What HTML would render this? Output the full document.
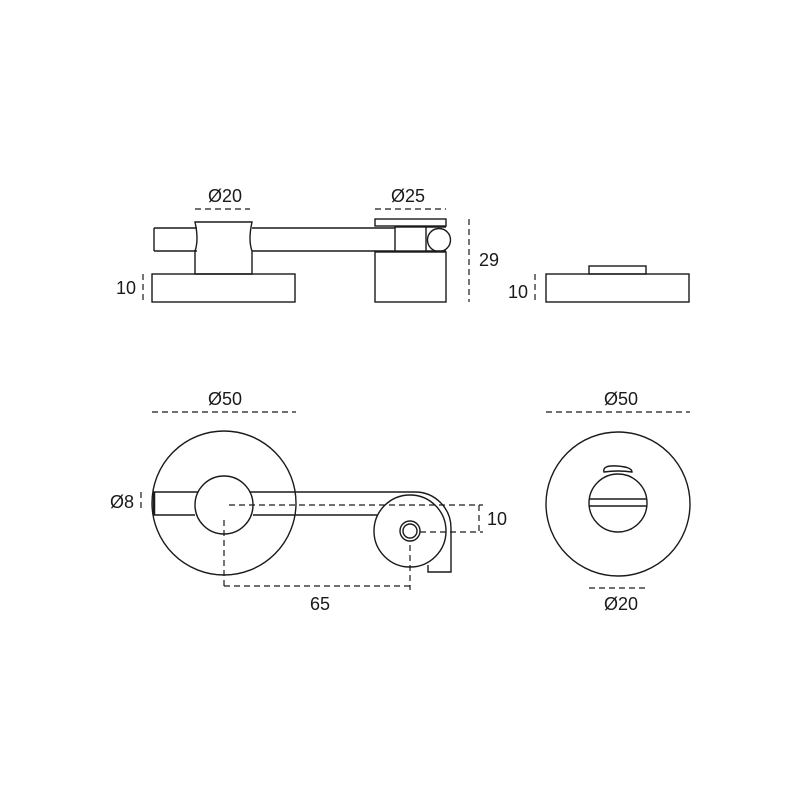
<!DOCTYPE html>
<html><head><style>body{margin:0;background:#fff}svg{display:block}</style></head><body>
<svg width="800" height="800" viewBox="0 0 800 800" xmlns="http://www.w3.org/2000/svg" font-family="Liberation Sans, sans-serif" font-size="18" fill="none" stroke="#1a1a1a" stroke-width="1.4">
<g fill="#1a1a1a" stroke="none" text-anchor="middle">
<text x="225" y="202">Ø20</text><text x="408" y="202">Ø25</text>
<text x="489" y="266">29</text><text x="126" y="294">10</text><text x="518" y="298">10</text>
<text x="225" y="405">Ø50</text><text x="621" y="405">Ø50</text>
<text x="122" y="508">Ø8</text><text x="497" y="525">10</text>
<text x="320" y="610">65</text><text x="621" y="610">Ø20</text>
</g>
<!-- top left view -->
<rect x="152" y="274" width="143" height="28"/>
<path d="M154 228 H197 M154 251 H197 M154 228 V251"/>
<path d="M195 222 H252 Q248 240 252 251 V274 H195 V251 Q199 240 195 222 Z"/>
<path d="M252 228 H395 M252 251 H395"/>
<rect x="375" y="219" width="71" height="7"/>
<rect x="395" y="227" width="31" height="24"/>
<path d="M426 227 H446 M426 251 H446"/>
<circle cx="439" cy="240" r="11.5"/>
<rect x="375" y="252" width="71" height="50"/>
<!-- top right -->
<rect x="546" y="274" width="143" height="28"/>
<rect x="589" y="266" width="57" height="8"/>
<!-- bottom left -->
<circle cx="224" cy="503" r="72"/>
<path d="M153 492 H415 A36 36 0 0 1 451 528 V572 H428 V565"/>
<path d="M153 515 H195 M253 515 H377"/>
<line x1="154" y1="492" x2="154" y2="515" stroke-width="2.5"/>
<circle cx="224" cy="505" r="29" fill="#fff"/>
<circle cx="410" cy="531" r="36" fill="#fff"/>
<circle cx="410" cy="531" r="10"/><circle cx="410" cy="531" r="7"/>
<!-- bottom right -->
<circle cx="618" cy="504" r="72"/>
<circle cx="618" cy="503" r="29"/>
<path d="M589 499 H647 M589 506 H647"/>
<path d="M604 472 Q602 465 617 466 Q632 467 632 472 Q618 470 604 472 Z"/>
<g stroke-dasharray="6,4" stroke-width="1.2">
<line x1="195" y1="209" x2="250" y2="209"/><line x1="375" y1="209" x2="446" y2="209"/>
<line x1="469" y1="219" x2="469" y2="302"/><line x1="143" y1="274" x2="143" y2="302"/>
<line x1="535" y1="274" x2="535" y2="302"/>
<line x1="152" y1="412" x2="296" y2="412"/><line x1="546" y1="412" x2="690" y2="412"/>
<line x1="141" y1="492" x2="141" y2="512"/>
<line x1="229" y1="505" x2="483" y2="505"/><line x1="420" y1="532" x2="483" y2="532"/>
<line x1="479" y1="505" x2="479" y2="532"/>
<line x1="224" y1="520" x2="224" y2="586"/><line x1="410" y1="545" x2="410" y2="590"/>
<line x1="224" y1="586" x2="410" y2="586"/><line x1="589" y1="588" x2="645" y2="588"/>
</g>
</svg>
</body></html>
